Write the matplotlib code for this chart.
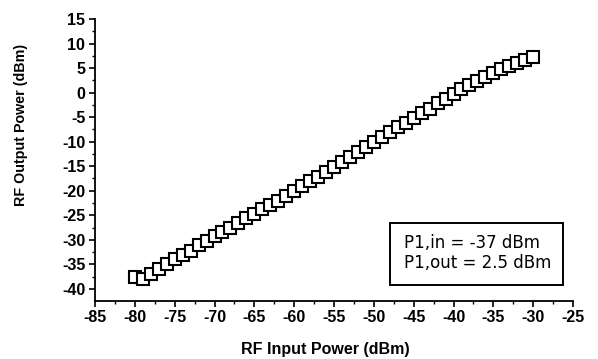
import matplotlib
matplotlib.use("Agg")
import matplotlib.pyplot as plt
from matplotlib.ticker import MultipleLocator
from matplotlib.patches import Rectangle

pin = list(range(-80, -29))
pout = [-37.5, -38.0, -37.0, -35.9, -35.0, -34.0, -33.1, -32.2, -31.1, -30.2,
        -29.3, -28.5, -27.5, -26.6, -25.6, -24.7, -23.8, -22.9, -22.0, -21.0,
        -20.0, -19.0, -18.1, -17.1, -16.1, -15.1, -14.1, -13.1, -12.1, -11.0,
        -10.0, -9.0, -8.0, -7.1, -6.1, -5.1, -4.2, -3.3, -2.2, -1.3,
        -0.2, 0.8, 1.6, 2.4, 3.2, 4.0, 4.8, 5.4, 6.0, 6.7, 7.3]

xticks = list(range(-85, -24, 5))
yticks = list(range(-40, 16, 5))
box_text = "P1,in = -37 dBm\nP1,out = 2.5 dBm"

plt.rcParams['font.family'] = ['Liberation Sans', 'DejaVu Sans']
plt.rcParams['axes.unicode_minus'] = False

fig = plt.figure(figsize=(5.98, 3.59), dpi=100)
ax = fig.add_axes([0.1589, 0.1624, 0.7993, 0.7847])

ax.plot(pin, pout, linestyle='none', marker='s', markersize=9.3,
        markerfacecolor='white', markeredgecolor='black', markeredgewidth=1.5)

ax.set_xlim(-85, -25)
ax.set_ylim(-42.4, 15)
ax.set_xticks(xticks)
ax.set_yticks(yticks)
ax.xaxis.set_minor_locator(MultipleLocator(2.5))
ax.yaxis.set_minor_locator(MultipleLocator(2.5))
ax.tick_params(which='major', direction='out', length=4, width=1.2, labelsize=11.5, pad=3)
ax.tick_params(which='minor', direction='out', length=2, width=1.0)
for lab in ax.get_xticklabels() + ax.get_yticklabels():
    lab.set_fontweight('bold')

for s in ['top', 'right']:
    ax.spines[s].set_visible(False)
for s in ['left', 'bottom']:
    ax.spines[s].set_linewidth(1.3)

ax.set_xlabel("RF Input Power (dBm)", fontsize=11.5, fontweight='bold')
ax.set_ylabel("RF Output Power (dBm)", fontsize=10.3, fontweight='bold')
ax.xaxis.set_label_coords(0.481, -0.148)
ax.yaxis.set_label_coords(-0.140, 0.624)

ax.add_patch(Rectangle((0.617, 0.056), 0.362, 0.221, transform=ax.transAxes,
                       facecolor='white', edgecolor='black', linewidth=1.4, zorder=3))
ax.text(0.646, 0.170, box_text, transform=ax.transAxes, ha='left', va='center',
        fontsize=12, linespacing=1.1, family='DejaVu Sans', zorder=4)

fig.savefig("out.png", dpi=100)
